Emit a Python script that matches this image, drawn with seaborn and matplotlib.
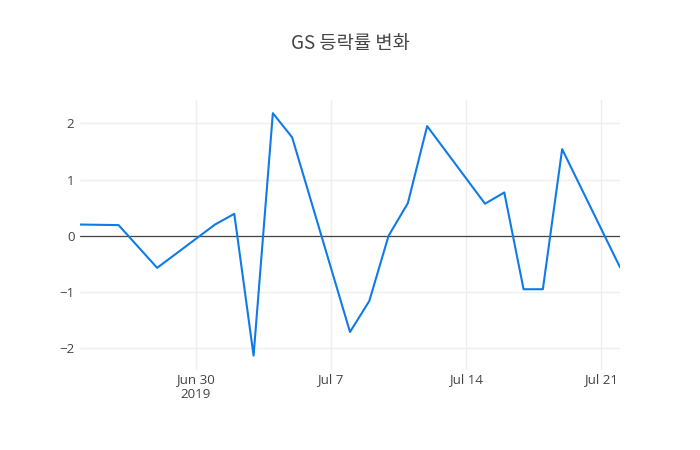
import matplotlib
matplotlib.use("Agg")
import matplotlib.pyplot as plt
import seaborn as sns
import pandas as pd

dates = ["2019-06-24", "2019-06-26", "2019-06-28", "2019-07-01", "2019-07-02",
         "2019-07-03", "2019-07-04", "2019-07-05", "2019-07-08", "2019-07-09",
         "2019-07-10", "2019-07-11", "2019-07-12", "2019-07-15", "2019-07-16",
         "2019-07-17", "2019-07-18", "2019-07-19", "2019-07-22"]
changes = [0.20, 0.19, -0.57, 0.20, 0.39, -2.13, 2.18, 1.75, -1.71, -1.16,
           0.00, 0.58, 1.95, 0.57, 0.77, -0.95, -0.95, 1.54, -0.56]
tick_dates = ["2019-06-30", "2019-07-07", "2019-07-14", "2019-07-21"]
tick_labels = ["Jun 30\n2019", "Jul 7", "Jul 14", "Jul 21"]
y_ticks = [-2, -1, 0, 1, 2]
title = "GS 등락률 변화"

df = pd.DataFrame({"date": pd.to_datetime(dates), "change": changes})

sns.set_style("white")
plt.rcParams['font.family'] = ['Open Sans', 'Noto Sans CJK KR', 'DejaVu Sans']

fig = plt.figure(figsize=(7, 4.5), dpi=100)
ax = fig.add_axes([80/700, 80/450, 540/700, 270/450])

sns.lineplot(data=df, x="date", y="change", ax=ax, color="#0f7be9", linewidth=1.5, zorder=3)

ax.set_xlim(df["date"].min(), df["date"].max())
ax.set_ylim(-2.386, 2.414)

ax.set_xticks(pd.to_datetime(tick_dates))
ax.set_xticklabels(tick_labels)
ax.set_yticks(y_ticks)
ax.set_yticklabels([str(v).replace("-", "\u2212") for v in y_ticks])

ax.grid(True, color="#eeeeee", linewidth=1)
ax.axhline(0, color="#444444", linewidth=0.9, zorder=2)
for s in ax.spines.values():
    s.set_visible(False)
ax.tick_params(axis="both", length=0, labelsize=9.6, colors="#444444")
ax.tick_params(axis="x", pad=2.5)
ax.tick_params(axis="y", pad=4)
for lab in ax.get_xticklabels():
    lab.set_linespacing(1.2)
ax.set_xlabel("")
ax.set_ylabel("")

fig.text(350/700, 1 - 44/450, title, ha="center", va="center", fontsize=13.5,
         color="#444444", family=['Noto Sans CJK KR', 'DejaVu Sans'])

fig.savefig("out.png", dpi=100, facecolor="white")
